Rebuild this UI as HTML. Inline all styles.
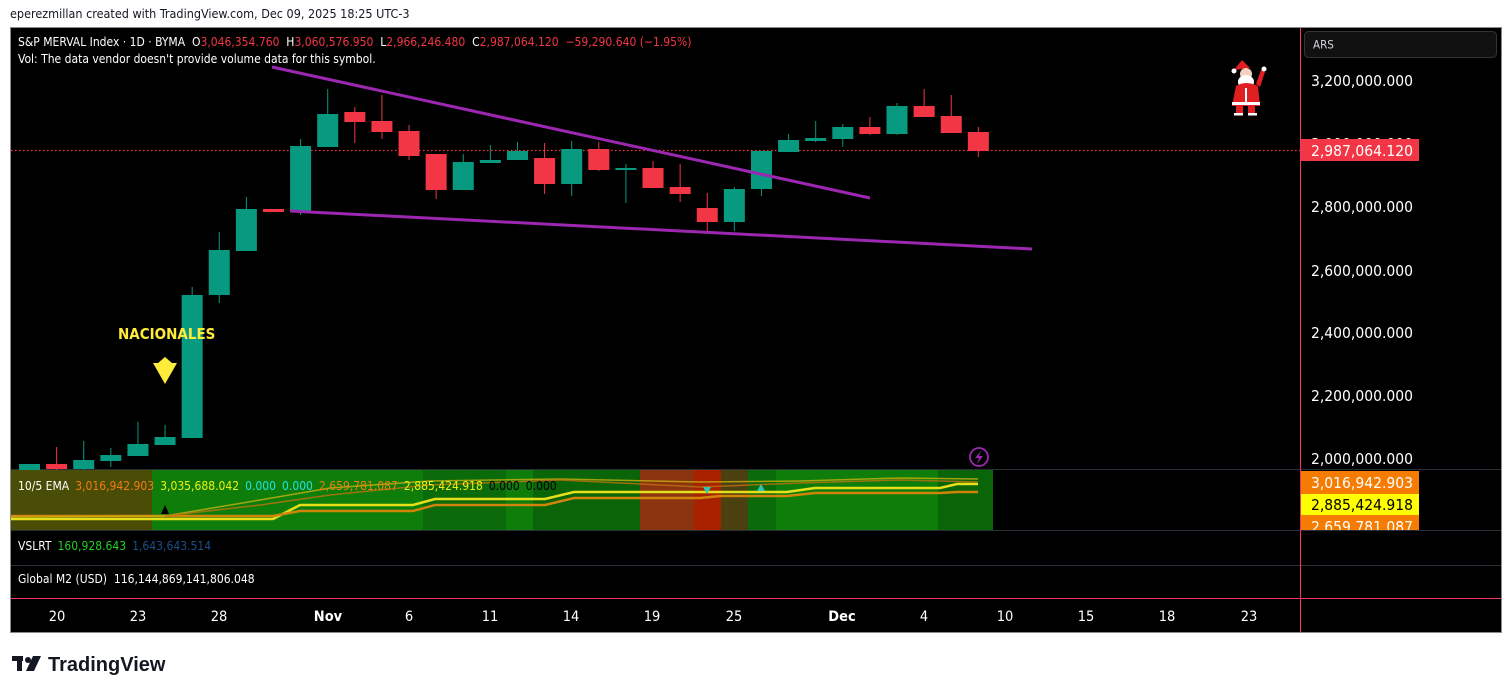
<!DOCTYPE html>
<html><head><meta charset="utf-8"><style>
html,body{margin:0;padding:0;background:#fff;width:1512px;height:694px;overflow:hidden;font-family:"Liberation Sans","DejaVu Sans",sans-serif}
</style></head><body>
<svg id="s" width="1512" height="694" xmlns="http://www.w3.org/2000/svg" font-family="'DejaVu Sans Condensed','Liberation Sans',sans-serif">
<text x="10" y="18" font-size="12.5" fill="#131722">eperezmillan created with TradingView.com, Dec 09, 2025 18:25 UTC-3</text>
<rect x="10.5" y="27.5" width="1491" height="605" fill="#000" stroke="#8a8a8a"/>
<g id="ind">
<rect x="11" y="470" width="141" height="60" fill="#4a4d05"/>
<rect x="152" y="470" width="271" height="60" fill="#0e7d0a"/>
<rect x="423" y="470" width="83" height="60" fill="#0b6a0a"/>
<rect x="506" y="470" width="27" height="60" fill="#0e7d0a"/>
<rect x="533" y="470" width="107" height="60" fill="#0a6408"/>
<rect x="640" y="470" width="54" height="60" fill="#8a3510"/>
<rect x="694" y="470" width="27" height="60" fill="#a82200"/>
<rect x="721" y="470" width="27" height="60" fill="#4b4010"/>
<rect x="748" y="470" width="28" height="60" fill="#0b6a0a"/>
<rect x="776" y="470" width="162" height="60" fill="#0e7d0a"/>
<rect x="938" y="470" width="55" height="60" fill="#0a6408"/>
<polyline points="11,519 273,519 300,505 413,505 435,499 545,499 574,492 787,492 815,488 940,488 957,484 978,484" fill="none" stroke="#e6e01a" stroke-width="2.5"/>
<polyline points="11,516 273,516 300,511 413,511 435,505 545,505 574,498 700,498 720,496 787,496 815,493 940,493 957,492 978,492" fill="none" stroke="#d0840a" stroke-width="2.5"/>
<polyline points="11,517 165,516 260,500 330,488 430,481 560,479 700,482 800,481 900,478 978,479" fill="none" stroke="#c8b010" stroke-width="1.5" opacity="0.8"/>
<polyline points="165,516 260,505 330,495 430,485 560,480 700,487 800,483 900,480 978,482" fill="none" stroke="#c07010" stroke-width="1.5" opacity="0.8"/>
<polygon points="161,514 169,514 165,505" fill="#000"/>
<polygon points="703,487 711,487 707,494" fill="#2ec6b6"/>
<polygon points="757,491 765,491 761,484" fill="#2ec6b6"/>
<text x="18" y="490" font-size="12"><tspan fill="#fff">10/5 EMA</tspan><tspan fill="#f07c10" dx="6">3,016,942.903</tspan><tspan fill="#f0f010" dx="6">3,035,688.042</tspan><tspan fill="#20e0e0" dx="6">0.000</tspan><tspan fill="#20e0e0" dx="6">0.000</tspan><tspan fill="#f07c10" dx="6">2,659,781.087</tspan><tspan fill="#f0f010" dx="6">2,885,424.918</tspan><tspan fill="#000" dx="6">0.000</tspan><tspan fill="#000" dx="6">0.000</tspan></text>
</g>
<line x1="11" y1="469.5" x2="1501" y2="469.5" stroke="#2a2e39"/>
<line x1="11" y1="530.5" x2="1501" y2="530.5" stroke="#2a2e39"/>
<line x1="11" y1="565.5" x2="1501" y2="565.5" stroke="#2a2e39"/>
<line x1="11" y1="598.5" x2="1501" y2="598.5" stroke="#f23668"/>
<line x1="1300.5" y1="28" x2="1300.5" y2="632" stroke="#f23668"/>
<text x="18" y="550" font-size="12"><tspan fill="#fff">VSLRT</tspan><tspan fill="#22d022" dx="6">160,928.643</tspan><tspan fill="#1a4f8a" dx="6">1,643,643.514</tspan></text>
<text x="18" y="583" font-size="12" fill="#fff">Global M2 (USD)&#160; 116,144,869,141,806.048</text>
<line x1="11" y1="150.5" x2="1300" y2="150.5" stroke="#ff3040" stroke-width="1.2" stroke-dasharray="1.5,2.5"/>
<text x="18" y="46" font-size="12"><tspan fill="#fff">S&amp;P MERVAL Index · 1D · BYMA&#160; O</tspan><tspan fill="#f23645">3,046,354.760</tspan><tspan fill="#fff">&#160; H</tspan><tspan fill="#f23645">3,060,576.950</tspan><tspan fill="#fff">&#160; L</tspan><tspan fill="#f23645">2,966,246.480</tspan><tspan fill="#fff">&#160; C</tspan><tspan fill="#f23645">2,987,064.120&#160; −59,290.640 (−1.95%)</tspan></text>
<text x="18" y="63" font-size="12" fill="#fff">Vol: The data vendor doesn't provide volume data for this symbol.</text>
<g id="candles"></g>
<line x1="272" y1="67" x2="870" y2="198" stroke="#9c27b0" stroke-width="3"/>
<line x1="290" y1="211" x2="1032" y2="249" stroke="#9c27b0" stroke-width="3"/>
<text x="118" y="339" font-size="15" font-weight="bold" fill="#ffeb3b">NACIONALES</text>
<polygon points="158,363 165,357 172,363 177,363 165,384 153,363" fill="#ffeb3b"/>
<circle cx="979" cy="457" r="9" fill="none" stroke="#9c27b0" stroke-width="1.8"/>
<polygon points="981,451 975,458 979,458 977,464 983,456 979,456" fill="#9c27b0"/>
<g transform="translate(1228,52)">
<path d="M6,18 L14,8 L22,16 Z" fill="#e02020"/><circle cx="6" cy="19" r="2.5" fill="#fff"/>
<circle cx="18" cy="22" r="6" fill="#f5d0c0"/><ellipse cx="18" cy="30" rx="8" ry="7" fill="#fff"/>
<path d="M8,34 Q18,28 30,34 L32,54 L4,54 Z" fill="#e02020"/>
<path d="M28,32 L33,18 L37,20 L32,35 Z" fill="#e02020"/><circle cx="36" cy="17" r="2.5" fill="#fff"/>
<rect x="4" y="50" width="28" height="3" fill="#fff"/><rect x="8" y="54" width="7" height="8" fill="#e02020"/><rect x="20" y="54" width="7" height="8" fill="#e02020"/>
<rect x="6" y="61" width="9" height="2.5" fill="#fff"/><rect x="20" y="61" width="9" height="2.5" fill="#fff"/>
<rect x="17" y="36" width="2" height="14" fill="#fff"/>
</g>
<rect x="1304.5" y="31.5" width="192" height="26" rx="4" fill="#111" stroke="#333"/>
<text x="1313" y="48.5" font-size="11.5" fill="#d1d4dc">ARS</text>
<g font-size="15.5" fill="#fff">
<text x="1311" y="86">3,200,000.000</text>
<text x="1311" y="149">3,000,000.000</text>
<text x="1311" y="212">2,800,000.000</text>
<text x="1311" y="276">2,600,000.000</text>
<text x="1311" y="338">2,400,000.000</text>
<text x="1311" y="401">2,200,000.000</text>
<text x="1311" y="464">2,000,000.000</text>
</g>
<rect x="1301" y="139" width="118" height="22" fill="#f23645"/>
<text x="1311" y="156" font-size="15.5" fill="#fff">2,987,064.120</text>
<svg x="1301" y="471" width="118" height="59">
<rect x="0" y="0" width="118" height="23" fill="#f57c00"/>
<rect x="0" y="23" width="118" height="21" fill="#ffff00"/>
<rect x="0" y="44" width="118" height="20" fill="#f57c00"/>
<text x="10" y="17" font-size="15.5" fill="#fff">3,016,942.903</text>
<text x="10" y="39" font-size="15.5" fill="#000">2,885,424.918</text>
<text x="10" y="61" font-size="15.5" fill="#fff">2,659,781.087</text>
</svg>
<g font-size="14.5" fill="#fff" text-anchor="middle">
<text x="57" y="621">20</text><text x="138" y="621">23</text><text x="219" y="621">28</text>
<text x="328" y="621" font-weight="bold">Nov</text><text x="409" y="621">6</text><text x="490" y="621">11</text>
<text x="571" y="621">14</text><text x="652" y="621">19</text><text x="734" y="621">25</text>
<text x="842" y="621" font-weight="bold">Dec</text><text x="924" y="621">4</text><text x="1005" y="621">10</text>
<text x="1086" y="621">15</text><text x="1167" y="621">18</text><text x="1249" y="621">23</text>
</g>
<g fill="#131722">
<rect x="12" y="656" width="11" height="5"/><rect x="17" y="656" width="5" height="15"/>
<circle cx="28" cy="660" r="3"/><polygon points="33,656 41,656 34,671 26,671"/>
</g>
<text x="48" y="671" font-family="'Liberation Sans',sans-serif" font-size="20" font-weight="bold" fill="#131722">TradingView</text>
</svg>
<script>
var c=[
[464,470,464,470,1],[464,469,447,470,0],[460,469,441,470,1],[455,461,448,467,1],[444,456,422,456,1],[437,445,425,445,1],
[295,438,287,438,1],[250,295,232,303,1],[209,251,197,251,1],[209,212,209,212,0],[146,212,139,215,1],[114,147,89,147,1],
[112,122,107,143,0],[121,132,95,139,0],[131,156,125,160,0],[154,190,154,199,0],[162,190,154,190,1],[160,163,145,163,1],
[151,160,142,160,1],[158,184,143,194,0],[149,184,141,196,1],[149,170,142,171,0],[168,170,164,203,1],[168,188,161,188,0],
[187,194,164,202,0],[208,222,193,231,0],[189,222,187,231,1],[151,189,151,196,1],[140,152,134,152,1],[138,141,121,142,1],
[127,139,124,147,1],[127,134,117,135,0],[106,134,103,135,1],[106,117,89,117,0],[116,133,95,133,0],[132,151,127,157,0]];
var g=document.getElementById('candles'),h='';
c.forEach(function(d,i){var x=29.5+i*27.11,col=d[4]?'#089981':'#f23645';
h+='<line x1="'+x+'" y1="'+d[2]+'" x2="'+x+'" y2="'+d[3]+'" stroke="'+col+'" stroke-width="1"/>';
h+='<rect x="'+(x-10.5)+'" y="'+d[0]+'" width="21" height="'+Math.max(2,d[1]-d[0])+'" fill="'+col+'"/>';});
g.innerHTML=h;
</script>
</body></html>
